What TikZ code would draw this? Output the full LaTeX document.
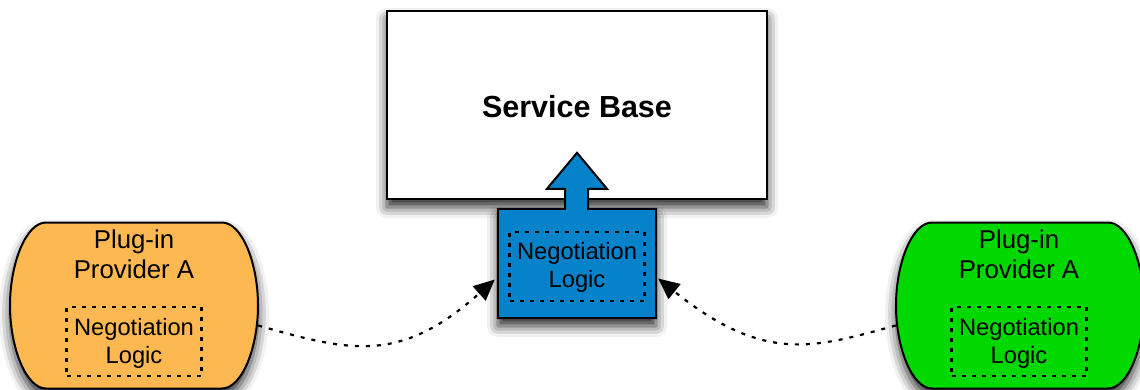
\documentclass[tikz,border=0pt]{standalone}
\usepackage{fontspec}
\setmainfont{Liberation Sans}
\usetikzlibrary{calc, shadows.blur, arrows.meta}
\usetikzlibrary{positioning}

\definecolor{provorange}{HTML}{FDB851}
\definecolor{provgreen}{HTML}{00D800}
\definecolor{logicblue}{HTML}{0582C9}

\tikzset{
    softshadow/.style={blur shadow={shadow xshift=0pt, shadow yshift=-8pt, shadow blur radius=11pt, shadow opacity=85}},
    provspace/.style={minimum width=248pt, minimum height=166pt, inner sep=0pt},
    provshape/.style={draw=black, line width=2pt, softshadow},
    nametxt/.style={inner sep=0pt, align=center, font=\fontsize{25.8}{30}\selectfont},
    logicbox/.style={inner sep=0pt, draw=black, line width=2.2pt, dash pattern=on 4pt off 6pt, minimum width=135pt, minimum height=69pt},
    logictxt/.style={inner sep=0pt, align=center, font=\fontsize{23.7}{28.5}\selectfont},
    link/.style={line width=2.2pt, dash pattern=on 4pt off 7pt, -{Triangle[length=21pt, width=19pt, fill=black]}},
}

% outline of a provider, round the node #1
\newcommand{\provoutline}[1]{
    ($(#1)+(-88,-83)$) -- ($(#1)+(88,-83)$)
    .. controls ($(#1)+(108,-83)$) and ($(#1)+(124,-42)$) .. ($(#1)+(124,0)$)
    .. controls ($(#1)+(124,42)$) and ($(#1)+(108,83)$) .. ($(#1)+(88,83)$)
    -- ($(#1)+(-88,83)$)
    .. controls ($(#1)+(-108,83)$) and ($(#1)+(-124,42)$) .. ($(#1)+(-124,0)$)
    .. controls ($(#1)+(-124,-42)$) and ($(#1)+(-108,-83)$) .. ($(#1)+(-88,-83)$) -- cycle
}

\begin{document}
\begin{tikzpicture}[x=1pt, y=-1pt]
    \useasboundingbox (0,0) rectangle (1140,390);

    % service base
    \node[draw=black, fill=white, line width=2pt, softshadow, minimum width=380pt, minimum height=188pt, inner sep=0pt] (base) at (577,105) {};
    \node[inner sep=0pt, font=\fontsize{30.5}{36}\selectfont\bfseries] (basetxt) at ($(base)+(0,2)$) {Service Base};

    % negotiation block with its arrow
    \node[fill=logicblue, softshadow, minimum width=158pt, minimum height=109pt, inner sep=0pt] (logic) at (577,263.5) {};
    \draw[fill=logicblue, line width=2pt, line join=miter] (logic.north west) -- ($(logic.north)+(-12,0)$)
        -- ($(logic.north)+(-12,-20)$) -- ($(logic.north)+(-30,-20)$) -- ($(logic.north)+(0,-56)$)
        -- ($(logic.north)+(30,-20)$) -- ($(logic.north)+(11,-20)$) -- ($(logic.north)+(11,0)$)
        -- (logic.north east) -- (logic.south east) -- (logic.south west) -- cycle;
    \node[logicbox] (logicin) at (577,266.5) {};
    \node[logictxt] (logicintxt) at ($(logicin)+(0,1)$) {Negotiation\\Logic};

    % provider left
    \node[provspace] (provA) at (134,305.5) {};
    \draw[provshape, fill=provorange] \provoutline{provA};
    \node[nametxt] (provAname) at ($(provA)+(0,-51)$) {Plug-in\\Provider A};
    \node[logicbox] (provAlogic) at ($(provA)+(0,36)$) {};
    \node[logictxt] (provAlogictxt) at ($(provAlogic)+(0,2)$) {Negotiation\\Logic};

    % provider right
    \node[provspace] (provB) at (1020,305.5) {};
    \draw[provshape, fill=provgreen] \provoutline{provB};
    \node[nametxt] (provBname) at ($(provB)+(-1,-51)$) {Plug-in\\Provider A};
    \node[logicbox] (provBlogic) at ($(provB)+(-1,36)$) {};
    \node[logictxt] (provBlogictxt) at ($(provBlogic)+(0,2)$) {Negotiation\\Logic};

    % providers to negotiation block
    \draw[link] ($(provA.east)+(0,20)$) .. controls ($(provA.east)+(92,46)$) and ($(logic.west)+(-98,101)$) .. ($(logic.west)+(-3,16)$);
    \draw[link] ($(provB.west)+(0,20)$) .. controls ($(provB.west)+(-81,42)$) and ($(logic.east)+(109,101)$) .. ($(logic.east)+(2,15)$);

\end{tikzpicture}
\end{document}
